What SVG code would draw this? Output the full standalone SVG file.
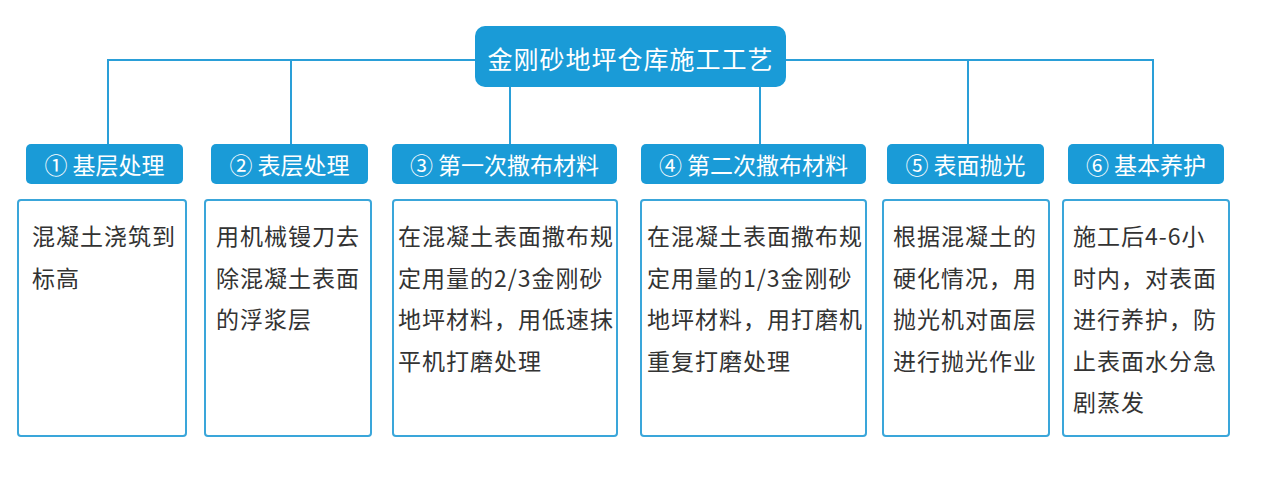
<svg xmlns="http://www.w3.org/2000/svg" width="1261" height="492" viewBox="0 0 1261 492">
<style>
.bg{fill:#ffffff}
.conn{stroke:#2a9fd8;stroke-width:2;fill:none}
.title{fill:#1a9bd7}
.hdr{fill:#1a9bd7}
.box{fill:#ffffff;stroke:#3aa6da;stroke-width:2}
.tt{font-family:"Noto Sans CJK SC","Noto Sans",sans-serif;font-size:25px;fill:#ffffff;text-anchor:middle;dominant-baseline:central;letter-spacing:1px}
.ht{font-family:"Noto Sans CJK SC","Noto Sans",sans-serif;font-size:23px;fill:#ffffff;text-anchor:middle;dominant-baseline:central}
.bt{font-family:"Noto Sans CJK SC","Noto Sans",sans-serif;font-size:23px;fill:#333333;dominant-baseline:central;letter-spacing:1px}
</style>
<rect class="bg" x="0" y="0" width="1261" height="492"/>
<g id="connectors">
<path class="conn" d="M108,60 H475 M786,60 H1153"/>
<path class="conn" d="M108,59 V144 M291,60 V144 M510,87 V144 M760,87 V144 M968,60 V144 M1153,59 V144"/>
</g>
<g id="title">
<rect class="title" x="475" y="26" width="311" height="61" rx="10"/>
<text class="tt" x="630.5" y="58">金刚砂地坪仓库施工工艺</text>
</g>
<g id="step1">
<rect class="hdr" x="26" y="144" width="157" height="40" rx="5"/>
<text class="ht" x="104.5" y="164">① 基层处理</text>
<rect class="box" x="18" y="200" width="168" height="236" rx="3"/>
<text class="bt" x="32" y="235">混凝土浇筑到</text>
<text class="bt" x="32" y="276.5">标高</text>
</g>
<g id="step2">
<rect class="hdr" x="211" y="144" width="157" height="40" rx="5"/>
<text class="ht" x="289.5" y="164">② 表层处理</text>
<rect class="box" x="205" y="200" width="166" height="236" rx="3"/>
<text class="bt" x="216" y="235">用机械镘刀去</text>
<text class="bt" x="216" y="276.5">除混凝土表面</text>
<text class="bt" x="216" y="318">的浮浆层</text>
</g>
<g id="step3">
<rect class="hdr" x="392" y="144" width="225" height="40" rx="5"/>
<text class="ht" x="504.5" y="164">③ 第一次撒布材料</text>
<rect class="box" x="393" y="200" width="224" height="236" rx="3"/>
<text class="bt" x="398" y="235">在混凝土表面撒布规</text>
<text class="bt" x="398" y="276.5">定用量的2/3金刚砂</text>
<text class="bt" x="398" y="318">地坪材料，用低速抹</text>
<text class="bt" x="398" y="359.5">平机打磨处理</text>
</g>
<g id="step4">
<rect class="hdr" x="641" y="144" width="225" height="40" rx="5"/>
<text class="ht" x="753.5" y="164">④ 第二次撒布材料</text>
<rect class="box" x="641" y="200" width="225" height="236" rx="3"/>
<text class="bt" x="647" y="235">在混凝土表面撒布规</text>
<text class="bt" x="647" y="276.5">定用量的1/3金刚砂</text>
<text class="bt" x="647" y="318">地坪材料，用打磨机</text>
<text class="bt" x="647" y="359.5">重复打磨处理</text>
</g>
<g id="step5">
<rect class="hdr" x="887" y="144" width="157" height="40" rx="5"/>
<text class="ht" x="965.5" y="164">⑤ 表面抛光</text>
<rect class="box" x="883" y="200" width="166" height="236" rx="3"/>
<text class="bt" x="893" y="235">根据混凝土的</text>
<text class="bt" x="893" y="276.5">硬化情况，用</text>
<text class="bt" x="893" y="318">抛光机对面层</text>
<text class="bt" x="893" y="359.5">进行抛光作业</text>
</g>
<g id="step6">
<rect class="hdr" x="1068" y="144" width="156" height="40" rx="5"/>
<text class="ht" x="1146" y="164">⑥ 基本养护</text>
<rect class="box" x="1063" y="200" width="166" height="236" rx="3"/>
<text class="bt" x="1073" y="235">施工后4-6小</text>
<text class="bt" x="1073" y="276.5">时内，对表面</text>
<text class="bt" x="1073" y="318">进行养护，防</text>
<text class="bt" x="1073" y="359.5">止表面水分急</text>
<text class="bt" x="1073" y="401">剧蒸发</text>
</g>
</svg>
